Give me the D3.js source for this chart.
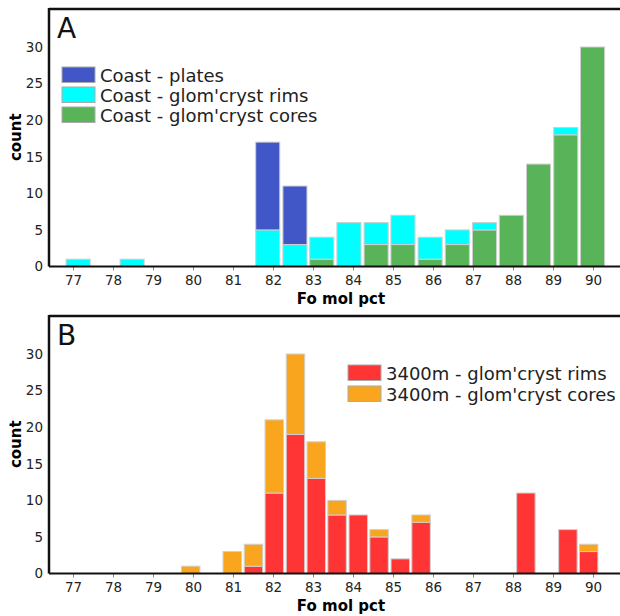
<!DOCTYPE html>
<html>
<head>
<meta charset="utf-8">
<script src="https://cdn.jsdelivr.net/npm/d3@7/dist/d3.min.js"></script>
<style>
	body { margin: 0; background: #fff; }
	svg text { font-family: "DejaVu Sans", Verdana, sans-serif; }
</style>
</head>
<body>
<div id="chart"></div>
<script>

// panel A : Coast, lower edge of each bin (Fo mol pct)
var binsA = [76.79, 77.47, 78.14, 78.82, 79.50, 80.18, 80.85, 81.53, 82.21, 82.88,
	83.56, 84.24, 84.91, 85.59, 86.27, 86.95, 87.62, 88.30, 88.98, 89.65];
var binWidthA = 0.677;
var coastPlates = [0, 0, 0, 0, 0, 0, 0, 12, 8, 0, 0, 0, 0, 0, 0, 0, 0, 0, 0, 0];
var coastRims   = [1, 0, 1, 0, 0, 0, 0, 5, 3, 3, 6, 3, 4, 3, 2, 1, 0, 0, 1, 0];
var coastCores  = [0, 0, 0, 0, 0, 0, 0, 0, 0, 1, 0, 3, 3, 1, 3, 5, 7, 14, 18, 30];

// panel B : 3400m
var binsB = [79.68, 80.20, 80.72, 81.25, 81.77, 82.30, 82.82, 83.34, 83.87, 84.39,
	84.92, 85.44, 85.96, 86.49, 87.01, 87.54, 88.06, 88.58, 89.11, 89.63];
var binWidthB = 0.524;
var deepRims  = [0, 0, 0, 1, 11, 19, 13, 8, 8, 5, 2, 7, 0, 0, 0, 0, 11, 0, 6, 3];
var deepCores = [1, 0, 3, 3, 10, 11, 5, 2, 0, 1, 0, 1, 0, 0, 0, 0, 0, 0, 0, 1];

var xTicks = [77, 78, 79, 80, 81, 82, 83, 84, 85, 86, 87, 88, 89, 90];
var yTicks = [0, 5, 10, 15, 20, 25, 30];

var svgWidth = 620;
var svgHeight = 616;
var plotLeft = 49;
var plotRight = 620;
var plotHeight = 258.5;

var svg = d3.select('#chart').append('svg')
	.attr('width', svgWidth)
	.attr('height', svgHeight);

var x = d3.scaleLinear().domain([76.4, 90.675]).range([plotLeft, plotRight]);
var y = d3.scaleLinear().domain([0, 35.33]).range([plotHeight, 0]);

function drawPanel(cfg) {
	var g = svg.append('g').attr('transform', 'translate(0,' + cfg.top + ')');

	var table = cfg.bins.map(function(b, i) {
		var row = {lo: b};
		cfg.series.forEach(function(s) { row[s.name] = s.values[i]; });
		return row;
	});

	// series listed bottom -> top
	var stack = d3.stack().keys(cfg.series.map(function(s) { return s.name; }));
	var layers = stack(table);

	var layer = g.selectAll('.layer').data(layers).enter().append('g')
		.attr('class', 'layer')
		.style('fill', function(d, i) { return cfg.series[i].color; });

	layer.selectAll('rect')
		.data(function(d) { return d.filter(function(v) { return v[1] - v[0] > 0; }); })
		.enter().append('rect')
		.attr('x', function(d) { return x(d.data.lo) + cfg.gap / 2; })
		.attr('width', function(d) { return x(d.data.lo + cfg.binWidth) - x(d.data.lo) - cfg.gap; })
		.attr('y', function(d) { return y(d[1]); })
		.attr('height', function(d) { return y(d[0]) - y(d[1]); })
		.style('stroke', '#cfcfcf')
		.style('stroke-width', 1);

	// x axis
	var xa = g.append('g')
		.attr('transform', 'translate(0,' + plotHeight + ')')
		.call(d3.axisBottom(x).tickValues(xTicks).tickSize(4).tickPadding(5).tickFormat(d3.format('d')));
	xa.select('.domain').remove();
	xa.selectAll('line').style('stroke', '#888');
	xa.selectAll('text').style('font-size', '13.5px').style('fill', '#222');

	// y axis
	var ya = g.append('g')
		.attr('transform', 'translate(' + plotLeft + ',0)')
		.call(d3.axisLeft(y).tickValues(yTicks).tickSize(0).tickPadding(6));
	ya.select('.domain').remove();
	ya.selectAll('text').style('font-size', '13.5px').style('fill', '#222');

	// frame
	g.append('line').attr('x1', plotLeft).attr('x2', plotRight).attr('y1', 1).attr('y2', 1)
		.style('stroke', '#111').style('stroke-width', 2.5);
	g.append('line').attr('x1', plotLeft).attr('x2', plotLeft).attr('y1', 0).attr('y2', plotHeight)
		.style('stroke', '#111').style('stroke-width', 2.5);
	g.append('line').attr('x1', plotLeft).attr('x2', plotRight).attr('y1', plotHeight).attr('y2', plotHeight)
		.style('stroke', '#111').style('stroke-width', 2);

	// labels
	g.append('text').attr('x', 57).attr('y', 30).style('font-size', '28px').style('fill', '#111').text(cfg.label);

	g.append('text')
		.attr('transform', 'translate(20.5,' + (plotHeight / 2) + ') rotate(-90)')
		.style('text-anchor', 'middle').style('font-size', '15px').style('font-weight', 'bold')
		.text('count');

	g.append('text')
		.attr('x', 341).attr('y', plotHeight + 37)
		.style('text-anchor', 'middle').style('font-size', '15px').style('font-weight', 'bold')
		.text('Fo mol pct');

	// legend, listed top -> bottom
	var legend = g.selectAll('.legend').data(cfg.legendOrder).enter().append('g')
		.attr('class', 'legend')
		.attr('transform', function(d, i) {
			return 'translate(' + cfg.legendX + ',' + (cfg.legendY + i * cfg.legendPitch) + ')';
		});

	legend.append('rect')
		.attr('width', 33).attr('height', 15.5)
		.style('fill', function(d) { return d.color; })
		.style('stroke', '#aaa').style('stroke-width', 1);

	legend.append('text')
		.attr('x', 38).attr('y', 14.5)
		.style('font-size', '18px').style('fill', '#222')
		.text(function(d) { return d.name; });
}

var plates = {name: 'Coast - plates', values: coastPlates, color: '#4157c8'};
var rimsA = {name: "Coast - glom'cryst rims", values: coastRims, color: '#00ffff'};
var coresA = {name: "Coast - glom'cryst cores", values: coastCores, color: '#59b459'};
var rimsB = {name: "3400m - glom'cryst rims", values: deepRims, color: '#ff3535'};
var coresB = {name: "3400m - glom'cryst cores", values: deepCores, color: '#f9a61e'};

drawPanel({
	top: 8, label: 'A', bins: binsA, binWidth: binWidthA, gap: 3,
	series: [coresA, rimsA, plates],
	legendOrder: [plates, rimsA, coresA],
	legendX: 62, legendY: 59, legendPitch: 20
});

drawPanel({
	top: 315, label: 'B', bins: binsB, binWidth: binWidthB, gap: 2.5,
	series: [rimsB, coresB],
	legendOrder: [rimsB, coresB],
	legendX: 348, legendY: 50, legendPitch: 21
});

</script>
</body>
</html>
